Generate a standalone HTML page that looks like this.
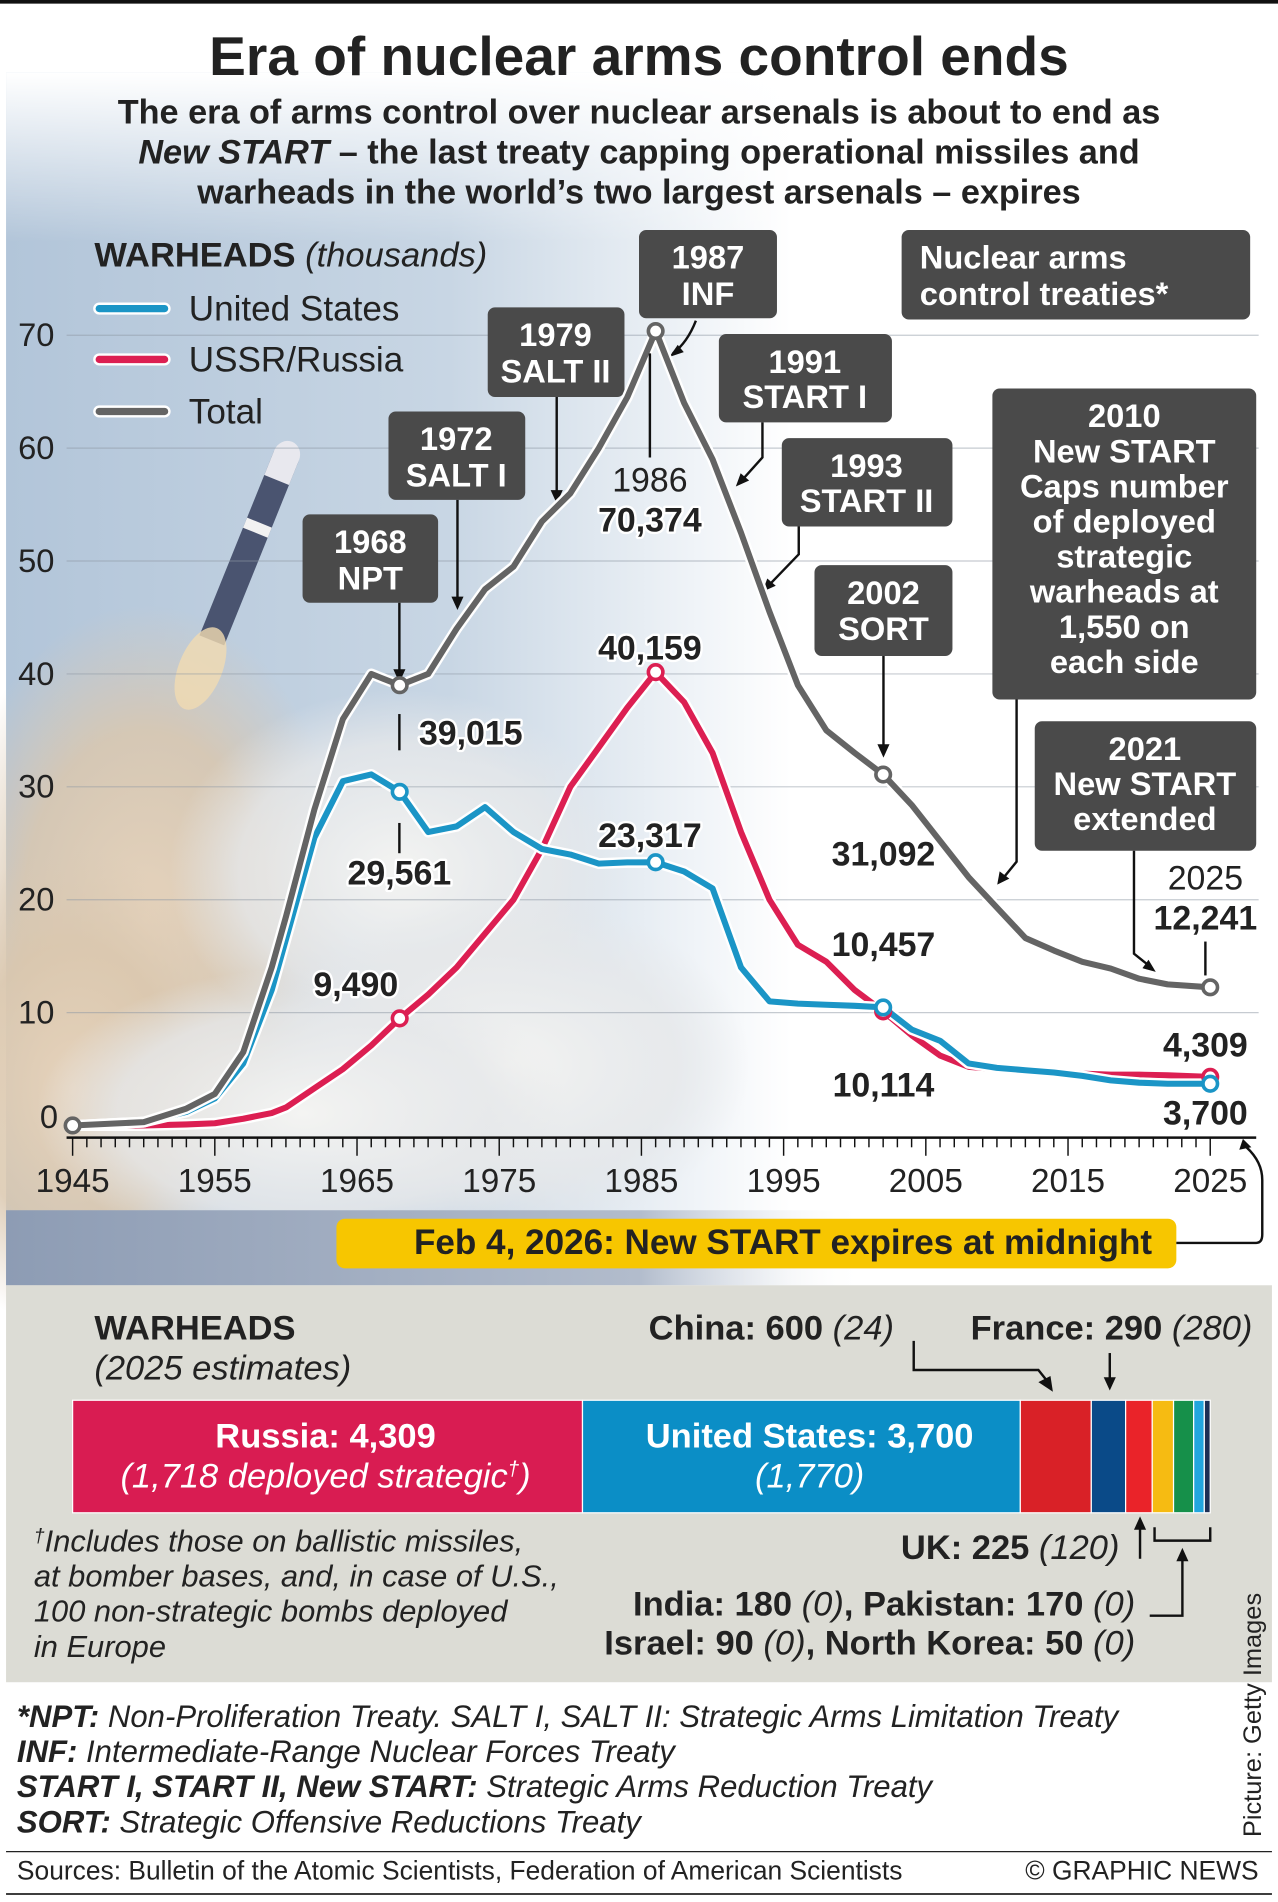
<!DOCTYPE html>
<html><head><meta charset="utf-8">
<style>
html,body{margin:0;padding:0;background:#fff;}
svg{display:block;font-family:"Liberation Sans",Arial,sans-serif;}
.b{font-weight:bold;}
.i{font-style:italic;}
</style></head>
<body>
<svg id="chart" width="1278" height="1902" viewBox="0 0 1056 1571.6" preserveAspectRatio="none" xmlns="http://www.w3.org/2000/svg">
<defs>
<linearGradient id="sky" x1="0" y1="0" x2="1" y2="0">
<stop offset="0" stop-color="#b2c5d9"/><stop offset="0.35" stop-color="#c8d6e4"/><stop offset="0.62" stop-color="#ffffff"/><stop offset="1" stop-color="#ffffff"/></linearGradient>
<linearGradient id="topfade" x1="0" y1="0" x2="0" y2="1">
<stop offset="0" stop-color="#ffffff" stop-opacity="1"/><stop offset="1" stop-color="#ffffff" stop-opacity="0"/></linearGradient>
<radialGradient id="cloud" cx="0.5" cy="0.5" r="0.5">
<stop offset="0" stop-color="#e6d3bc"/><stop offset="0.6" stop-color="#dac7ae" stop-opacity="0.85"/><stop offset="1" stop-color="#d9c9b5" stop-opacity="0"/></radialGradient>
<radialGradient id="cloud2" cx="0.5" cy="0.5" r="0.5">
<stop offset="0" stop-color="#f4f4f2"/><stop offset="0.7" stop-color="#e6e8ea" stop-opacity="0.8"/><stop offset="1" stop-color="#e6e8ea" stop-opacity="0"/></radialGradient>
<linearGradient id="sea" x1="0" y1="0" x2="1" y2="0">
<stop offset="0" stop-color="#8d9cb4"/><stop offset="0.5" stop-color="#b2bccc"/><stop offset="0.68" stop-color="#ffffff" stop-opacity="0"/></linearGradient>
</defs>

<rect x="0" y="0" width="1056" height="1572" fill="#fff"/>
<rect x="5" y="60" width="1046" height="1002" fill="url(#sky)"/>
<rect x="5" y="60" width="1046" height="140" fill="url(#topfade)"/>
<ellipse cx="120" cy="760" rx="170" ry="260" fill="url(#cloud)"/>
<ellipse cx="60" cy="900" rx="140" ry="200" fill="url(#cloud)"/>
<ellipse cx="330" cy="720" rx="190" ry="150" fill="url(#cloud2)"/>
<ellipse cx="420" cy="880" rx="200" ry="140" fill="url(#cloud2)"/>
<ellipse cx="250" cy="920" rx="220" ry="120" fill="url(#cloud2)"/>
<rect x="5" y="1000" width="1046" height="62" fill="url(#sea)"/>
<g transform="translate(205,455) rotate(22)">
<rect x="-11" y="-85" width="22" height="165" fill="#4a5470"/>
<ellipse cx="0" cy="-85" rx="11" ry="12" fill="#e8e8ee"/>
<rect x="-11" y="-85" width="22" height="22" fill="#e8e8ee"/>
<rect x="-11" y="-25" width="22" height="9" fill="#f2f2f2"/>
<ellipse cx="0" cy="105" rx="18" ry="36" fill="#f1dbb2" opacity="0.8"/>
</g>
<rect x="0" y="0" width="1056" height="3" fill="#111"/>

<text x="528" y="62" text-anchor="middle" class="b" font-size="45.5" fill="#222">Era of nuclear arms control ends</text>
<g class="b" font-size="28.3" fill="#222" text-anchor="middle">
<text x="528" y="102">The era of arms control over nuclear arsenals is about to end as</text>
<text x="528" y="135"><tspan class="i">New START</tspan> – the last treaty capping operational missiles and</text>
<text x="528" y="168">warheads in the world’s two largest arsenals – expires</text>
</g>

<text x="78" y="220" font-size="28.5" fill="#222"><tspan class="b">WARHEADS</tspan> <tspan class="i">(thousands)</tspan></text>
<g font-size="29" fill="#222">
<g><line x1="82" y1="255" x2="136" y2="255" stroke="#fff" stroke-width="10" stroke-linecap="round"/><line x1="82" y1="255" x2="136" y2="255" stroke="#1b95c6" stroke-width="6" stroke-linecap="round"/><text x="156" y="265">United States</text></g>
<g><line x1="82" y1="297" x2="136" y2="297" stroke="#fff" stroke-width="10" stroke-linecap="round"/><line x1="82" y1="297" x2="136" y2="297" stroke="#dc1f52" stroke-width="6" stroke-linecap="round"/><text x="156" y="307">USSR/Russia</text></g>
<g><line x1="82" y1="340" x2="136" y2="340" stroke="#fff" stroke-width="10" stroke-linecap="round"/><line x1="82" y1="340" x2="136" y2="340" stroke="#646464" stroke-width="6" stroke-linecap="round"/><text x="156" y="350">Total</text></g>
</g>

<g id="grid"></g>
<g id="yticks"></g>
<g id="xaxis"></g>

<g fill="#fff" class="b" font-size="27" text-anchor="middle">
<g>
<rect x="250" y="425" width="112" height="73" rx="6" fill="#4a4a4a"/>
<text x="306" y="457">1968</text><text x="306" y="487">NPT</text>
<path d="M330 498 V560" stroke="#111" stroke-width="2" fill="none"/><path d="M325 553 L330 564 L335 553Z" fill="#111"/></g>
<g>
<rect x="321" y="340" width="113" height="73" rx="6" fill="#4a4a4a"/>
<text x="377" y="372">1972</text><text x="377" y="402">SALT I</text>
<path d="M378 413 V500" stroke="#111" stroke-width="2" fill="none"/><path d="M373 493 L378 504 L383 493Z" fill="#111"/></g>
<g>
<rect x="403" y="254" width="113" height="74" rx="6" fill="#4a4a4a"/>
<text x="459" y="286">1979</text><text x="459" y="316">SALT II</text>
<path d="M460 328 V412" stroke="#111" stroke-width="2" fill="none"/><path d="M455 405 L460 416 L465 405Z" fill="#111"/></g>
<g>
<rect x="528" y="190" width="114" height="73" rx="6" fill="#4a4a4a"/>
<text x="585" y="222">1987</text><text x="585" y="252">INF</text>
<path d="M575 265 Q568 283 556 292" stroke="#111" stroke-width="2" fill="none"/><path d="M560 285 L553 295 L565 291Z" fill="#111"/></g>
<g>
<rect x="745" y="190" width="288" height="74" rx="6" fill="#4a4a4a"/>
<text x="760" y="222" text-anchor="start">Nuclear arms</text><text x="760" y="252" text-anchor="start">control treaties*</text></g>
<g>
<rect x="594" y="276" width="143" height="73" rx="6" fill="#4a4a4a"/>
<text x="665" y="308">1991</text><text x="665" y="337">START I</text>
<path d="M630 349 V378 L612 398" stroke="#111" stroke-width="2" fill="none"/><path d="M612 391 L608 402 L619 397Z" fill="#111"/></g>
<g>
<rect x="646" y="362" width="141" height="73" rx="6" fill="#4a4a4a"/>
<text x="716" y="394">1993</text><text x="716" y="423">START II</text>
<path d="M660 435 V458 L634 485" stroke="#111" stroke-width="2" fill="none"/><path d="M634 478 L630 489 L641 484Z" fill="#111"/></g>
<g>
<rect x="673" y="467" width="114" height="75" rx="6" fill="#4a4a4a"/>
<text x="730" y="499">2002</text><text x="730" y="529">SORT</text>
<path d="M730 542 V622" stroke="#111" stroke-width="2" fill="none"/><path d="M725 615 L730 626 L735 615Z" fill="#111"/></g>
<g>
<rect x="820" y="321" width="218" height="257" rx="6" fill="#4a4a4a"/>
<text x="929" y="353">2010</text><text x="929" y="382">New START</text><text x="929" y="411">Caps number</text><text x="929" y="440">of deployed</text><text x="929" y="469">strategic</text><text x="929" y="498">warheads at</text><text x="929" y="527">1,550 on</text><text x="929" y="556">each side</text>
<path d="M840 578 V712 L827 728" stroke="#111" stroke-width="2" fill="none"/><path d="M826 720 L824 731 L834 726Z" fill="#111"/></g>
<g>
<rect x="855" y="596" width="183" height="107" rx="6" fill="#4a4a4a"/>
<text x="946" y="628">2021</text><text x="946" y="657">New START</text><text x="946" y="686">extended</text>
<path d="M937 703 V788 L952 800" stroke="#111" stroke-width="2" fill="none"/><path d="M944 800 L955 803 L949 793Z" fill="#111"/></g>
</g>

<g id="series"></g>
<g id="markers"></g>

<g font-size="28" fill="#222" text-anchor="middle" stroke="#fff" stroke-width="4" paint-order="stroke" stroke-linejoin="round">
<text x="537" y="406" stroke-width="0">1986</text>
<text x="537" y="439" class="b">70,374</text>
<text x="537" y="545" class="b">40,159</text>
<text x="389" y="615" class="b">39,015</text>
<text x="330" y="731" class="b">29,561</text>
<text x="537" y="700" class="b">23,317</text>
<text x="294" y="823" class="b">9,490</text>
<text x="730" y="715" class="b">31,092</text>
<text x="730" y="790" class="b">10,457</text>
<text x="730" y="906" class="b">10,114</text>
<text x="996" y="735" stroke-width="0">2025</text>
<text x="996" y="768" class="b">12,241</text>
<text x="996" y="873" class="b">4,309</text>
<text x="996" y="929" class="b">3,700</text>
</g>
<g stroke="#111" stroke-width="2">
<line x1="537" y1="292" x2="537" y2="378"/><line x1="330" y1="590" x2="330" y2="620"/><line x1="330" y1="680" x2="330" y2="705"/><line x1="996" y1="778" x2="996" y2="806"/>
</g>

<g>
<rect x="278" y="1007" width="694" height="41" rx="7" fill="#f7c600"/>
<text x="647" y="1036" text-anchor="middle" class="b" font-size="29" fill="#222">Feb 4, 2026: New START expires at midnight</text>
<path d="M972 1027 H1038 Q1043 1027 1043 1020 V975 Q1043 960 1030 948" stroke="#111" stroke-width="2" fill="none"/>
<path d="M1024 950 L1027 941 L1034 948Z" fill="#111"/>
</g>

<rect x="5" y="1062" width="1046" height="328" fill="#dcdcd5"/>
<text x="78" y="1107" class="b" font-size="28.5" fill="#222">WARHEADS</text>
<text x="78" y="1140" class="i" font-size="28.5" fill="#222">(2025 estimates)</text>
<text x="536" y="1107" font-size="28.5" fill="#222"><tspan class="b">China: 600</tspan> <tspan class="i">(24)</tspan></text>
<text x="802" y="1107" font-size="28.5" fill="#222"><tspan class="b">France: 290</tspan> <tspan class="i">(280)</tspan></text>
<path d="M755 1108 V1132 H858 L866 1142" stroke="#111" stroke-width="2" fill="none"/><path d="M858 1142 L870 1150 L868 1137Z" fill="#111"/>
<path d="M917 1118 V1140" stroke="#111" stroke-width="2"/><path d="M912 1138 L917 1149 L922 1138Z" fill="#111"/>
<g id="stack"></g>
<g fill="#fff" font-size="28.5" text-anchor="middle">
<text x="269" y="1196" class="b">Russia: 4,309</text>
<text x="269" y="1229" class="i">(1,718 deployed strategic<tspan font-size="17" dy="-10">†</tspan><tspan dy="10">)</tspan></text>
<text x="669" y="1196" class="b">United States: 3,700</text>
<text x="669" y="1229" class="i">(1,770)</text>
</g>
<g class="i" font-size="25.5" fill="#222">
<text x="28" y="1282"><tspan font-size="16" dy="-8">†</tspan><tspan dy="8">Includes those on ballistic missiles,</tspan></text>
<text x="28" y="1311">at bomber bases, and, in case of U.S.,</text>
<text x="28" y="1340">100 non-strategic bombs deployed</text>
<text x="28" y="1369">in Europe</text>
</g>
<g font-size="28.5" fill="#222" text-anchor="end">
<text x="925" y="1288"><tspan class="b">UK: 225</tspan> <tspan class="i">(120)</tspan></text>
<text x="938" y="1335"><tspan class="b">India: 180</tspan> <tspan class="i">(0)</tspan><tspan class="b">, Pakistan: 170</tspan> <tspan class="i">(0)</tspan></text>
<text x="938" y="1367"><tspan class="b">Israel: 90</tspan> <tspan class="i">(0)</tspan><tspan class="b">, North Korea: 50</tspan> <tspan class="i">(0)</tspan></text>
</g>
<g stroke="#111" stroke-width="2" fill="none">
<path d="M942 1288 V1262"/><path d="M954 1262 V1273 H1000 V1262"/><path d="M950 1335 H977 V1282"/>
</g>
<path d="M937 1264 L942 1253 L947 1264Z" fill="#111"/><path d="M972 1290 L977 1279 L982 1290Z" fill="#111"/>

<g font-size="25.7" fill="#222" class="i">
<text x="14" y="1427"><tspan class="b">*NPT:</tspan> Non-Proliferation Treaty. SALT I, SALT II: Strategic Arms Limitation Treaty</text>
<text x="14" y="1456"><tspan class="b">INF:</tspan> Intermediate-Range Nuclear Forces Treaty</text>
<text x="14" y="1485"><tspan class="b">START I, START II, New START:</tspan> Strategic Arms Reduction Treaty</text>
<text x="14" y="1514"><tspan class="b">SORT:</tspan> Strategic Offensive Reductions Treaty</text>
</g>
<line x1="5" y1="1530" x2="1051" y2="1530" stroke="#222" stroke-width="1"/>
<text x="14" y="1553" font-size="21.8" fill="#222">Sources: Bulletin of the Atomic Scientists, Federation of American Scientists</text>
<text x="1040" y="1553" font-size="21.8" fill="#222" text-anchor="end">© GRAPHIC NEWS</text>
<line x1="5" y1="1565" x2="1051" y2="1565" stroke="#222" stroke-width="1.5"/>
<text transform="translate(1042,1518) rotate(-90)" font-size="21" fill="#222">Picture: Getty Images</text>
</svg>
<script>
const years = [1945,1950,1953,1955,1957,1959,1960,1962,1964,1966,1968,1970,1972,1974,1976,1978,1980,1982,1984,1986,1988,1990,1992,1994,1996,1998,2000,2002,2004,2006,2008,2010,2012,2014,2016,2018,2020,2022,2025];
const totalVals = [0.003,0.3,1.5,2.8,6.5,14,18.5,28,36,40,39.0,40,44,47.5,49.5,53.5,56,60,64.5,70.37,64,59,52.5,45.5,39,35,33,31.09,28.4,25.2,22,19.3,16.6,15.5,14.5,13.9,13,12.5,12.24];
const usVals = [0.002,0.3,1.2,2.4,5.5,12,16.5,25.5,30.5,31.1,29.56,26,26.5,28.2,26,24.5,24,23.2,23.3,23.32,22.5,21,14,11,10.8,10.7,10.6,10.46,8.5,7.5,5.5,5.1,4.9,4.7,4.4,4.0,3.8,3.7,3.7];
const ruVals = [0,0.005,0.1,0.2,0.6,1.1,1.6,3.3,5,7.1,9.49,11.6,14,17,20,24.5,30,33.5,37,40.16,37.5,33,26,20,16,14.5,12,10.11,8,6.2,5.2,5.0,4.9,4.8,4.6,4.5,4.5,4.45,4.31];
const yTicks = [0,10,20,30,40,50,60,70];
const xTickLabels = [1945,1955,1965,1975,1985,1995,2005,2015,2025];
const markerYears = [1968,1986,2002,2025];
const stackNames = ["Russia","United States","China","France","UK","India","Pakistan","Israel","North Korea"];
const stackVals = [4309,3700,600,290,225,180,170,90,50];
const stackColors = ["#d91c52","#0b8ec6","#d92127","#0a4a88","#ea2329","#f6bb12","#16904a","#22a6de","#1c2f55"];

const NS="http://www.w3.org/2000/svg";
function X(y){return 60+(y-1945)*(940/80);}
function Y(v){return 930-v*(653/70);}
function mk(tag,attrs,parent){const e=document.createElementNS(NS,tag);for(const k in attrs)e.setAttribute(k,attrs[k]);parent.appendChild(e);return e;}

const grid=document.getElementById('grid'), yt=document.getElementById('yticks'), xa=document.getElementById('xaxis');
yTicks.forEach(v=>{
  if(v>0){const l=mk('line',{x1:55,x2:1040,y1:Y(v),y2:Y(v),stroke:'#8e98a4','stroke-width':1,opacity:0.5},grid);
  
  }
  const t=mk('text',{x:v===0?33:15,y:Y(v)+(v===0?2:9),'font-size':27,fill:'#222'},yt);
  t.textContent=v;
  
  
});
mk('line',{x1:55,x2:1038,y1:940,y2:940,stroke:'#111','stroke-width':2},xa);
for(let yr=1945;yr<=2025;yr++){
  const major=(yr-1945)%10===0;
  mk('line',{x1:X(yr),x2:X(yr),y1:940,y2:major?955:948,stroke:'#111','stroke-width':1.2},xa);
}
xTickLabels.forEach(yr=>{
  const t=mk('text',{x:X(yr),y:985,'font-size':27.5,fill:'#222','text-anchor':'middle'},xa);
  t.textContent=yr;
  
  
});

const ser=document.getElementById('series');
function drawLine(vals,color,name){
  const d=vals.map((v,i)=>(i?'L':'M')+X(years[i]).toFixed(1)+' '+Y(v).toFixed(1)).join(' ');
  mk('path',{d:d,fill:'none',stroke:'#fff','stroke-width':9,'stroke-linejoin':'round','stroke-linecap':'round'},ser);
  const p=mk('path',{d:d,fill:'none',stroke:color,'stroke-width':5,'stroke-linejoin':'round','stroke-linecap':'round'},ser);
  
  
}
drawLine(ruVals,'#dc1f52','line-ussr-russia');
drawLine(usVals,'#1b95c6','line-united-states');
drawLine(totalVals,'#646464','line-total');

const mg=document.getElementById('markers');
function marker(vals,yr,color){
  const i=years.indexOf(yr);
  const c=mk('circle',{cx:X(yr),cy:Y(vals[i]),r:6,fill:'#fff',stroke:color,'stroke-width':3},mg);
  
  
}
markerYears.forEach(yr=>{marker(ruVals,yr,'#dc1f52');marker(usVals,yr,'#1b95c6');marker(totalVals,yr,'#646464');});
marker(totalVals,1945,'#646464');

const st=document.getElementById('stack');
const tot=stackVals.reduce((a,b)=>a+b,0);
let acc=0;
stackVals.forEach((v,i)=>{
  const x0=60+acc/tot*940, w=v/tot*940;
  const r=mk('rect',{x:x0,y:1157,width:w,height:93,fill:stackColors[i],stroke:'#fff','stroke-width':1},st);
  
  
  acc+=v;
});
</script>
</body></html>
